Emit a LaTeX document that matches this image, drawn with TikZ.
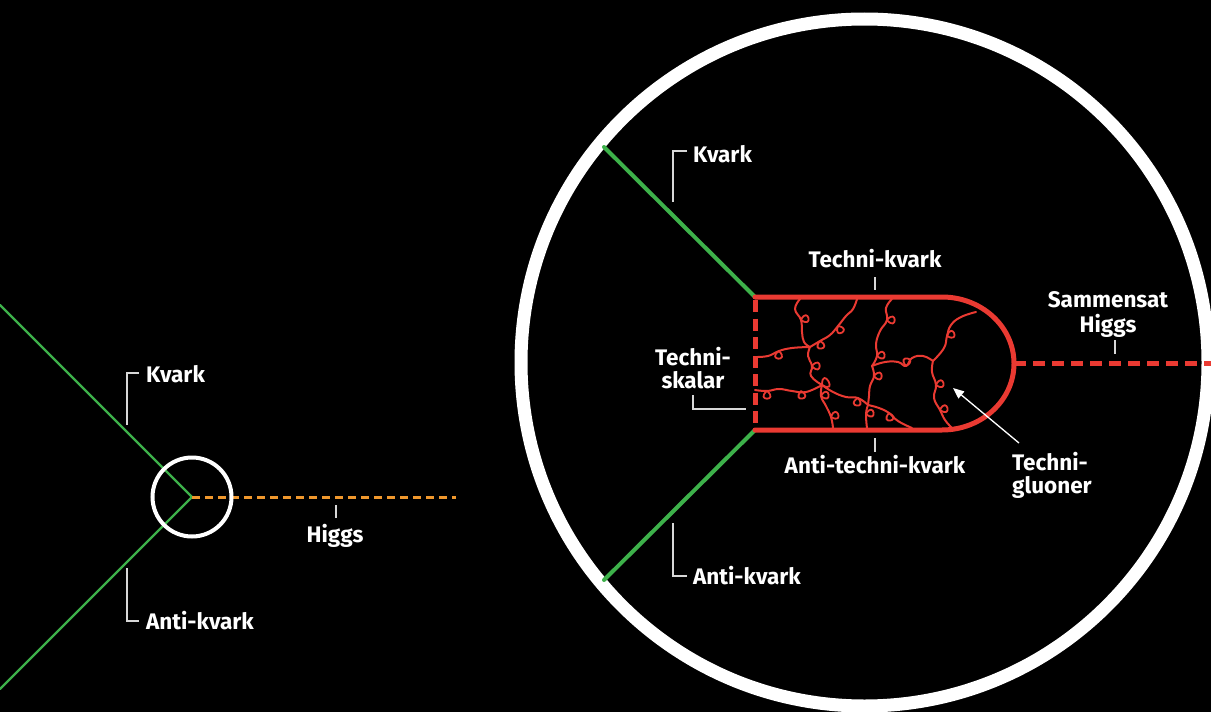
\documentclass[tikz,border=0pt]{standalone}
\usepackage{fontspec}
\setmainfont{Fira Sans}
\usetikzlibrary{arrows.meta}
\definecolor{qgreen}{RGB}{61,177,74}
\definecolor{tred}{RGB}{234,58,50}
\definecolor{horange}{RGB}{240,152,45}
\definecolor{tickgrey}{RGB}{215,215,215}
\begin{document}
\begin{tikzpicture}[x=1pt,y=-1pt,
  lbl/.style={font=\bfseries\fontsize{22.5}{25}\selectfont, text=white, inner sep=0pt},
  tick/.style={draw=tickgrey, line width=1.3pt},
  quark/.style={draw=qgreen, line cap=round},
  gluon/.style={draw=tred, line width=2pt, line cap=round, line join=round},
  redwall/.style={draw=tred, line width=5pt}]

% background and frame
\fill[black] (0,0) rectangle (1211,712);
\useasboundingbox (0,0) rectangle (1211,712);
\clip (0,0) rectangle (1211,712);

% ---------- small picture: quark + anti-quark -> Higgs ----------
\coordinate (qA) at (0,305);
\coordinate (qB) at (0,689);
\coordinate (vtx) at (192,497);
\coordinate (hEnd) at (456,497);
\draw[quark, line width=2.2pt] (qA) -- (vtx) -- (qB);
\draw[draw=horange, line width=3pt, dash pattern=on 8pt off 5pt] (vtx) -- (hEnd);
\node[draw=white, line width=4pt, circle, minimum size=79pt, inner sep=0pt] (zoomring) at (vtx) {};

\node[lbl, anchor=base west] (kvL) at (146,382) {Kvark};
\node[lbl, anchor=base] (higgsL) at (335,542) {Higgs};
\node[lbl, anchor=base west] (akvL) at (146,629) {Anti-kvark};
\coordinate (kvL1) at (139,373); \coordinate (kvL2) at (127,373); \coordinate (kvL3) at (127,425);
\coordinate (akL1) at (127,568); \coordinate (akL2) at (127,621); \coordinate (akL3) at (139,621);
\coordinate (hL1) at (336,505); \coordinate (hL2) at (336,518);
\draw[tick] (kvL1) -- (kvL2) -- (kvL3);
\draw[tick] (akL1) -- (akL2) -- (akL3);
\draw[tick] (hL1) -- (hL2);

% ---------- magnified view ----------
\node[draw=white, line width=13pt, circle, minimum size=687pt, inner sep=0pt] (lens) at (864.5,362.5) {};

% incoming quarks
\coordinate (qTop) at (604,147);
\coordinate (qBot) at (604,580);
\coordinate (boxTL) at (755,297);
\coordinate (boxBL) at (755,430);
\draw[quark, line width=4pt] (qTop) -- (boxTL);
\draw[quark, line width=4pt] (qBot) -- (boxBL);

% techni-quark loop: straight lines and rounded end
\draw[redwall, line cap=round, line join=round]
  (boxTL) -- (942,297) arc[start angle=-90, end angle=90, x radius=72, y radius=66.5] -- (boxBL);
% techni-scalar (dashed wall)
\draw[redwall, dash pattern=on 12pt off 6.5pt, dash phase=-3pt] (boxTL) -- (boxBL);
% composite Higgs leaving the loop
\coordinate (hOut) at (1014,363.5);
\coordinate (hRight) at (1215,363.5);
\draw[draw=tred, line width=4.5pt, dash pattern=on 12pt off 7pt] (hOut) -- (hRight);

% techni-gluon network
\begin{scope}[gluon]
  \draw plot[smooth, tension=0.75] coordinates {(800,299) (795,309) (801,320) (802,332) (804,342) (810,347)};
  \draw plot[smooth, tension=0.75] coordinates {(857,299) (853,309) (846,316) (838,326) (830,335) (820,341) (810,347)};
  \draw plot[smooth, tension=0.75] coordinates {(755,357) (768,356) (779,351) (792,348) (810,347)};
  \draw plot[smooth, tension=0.75] coordinates {(810,347) (808,356) (812,366) (811,376) (822,385)};
  \draw plot[smooth, tension=0.75] coordinates {(755,390) (767,391) (779,389) (792,391) (806,392) (822,385)};
  \draw plot[smooth, tension=0.75] coordinates {(822,385) (821,396) (826,406) (831,417) (833,428)};
  \draw plot[smooth, tension=0.75] coordinates {(822,385) (833,392) (846,397) (858,398) (868,405)};
  \draw plot[smooth, tension=0.75] coordinates {(868,405) (866,414) (867,428)};
  \draw plot[smooth, tension=0.75] coordinates {(892,299) (886,308) (887,320) (880,331) (876,344) (877,356) (872,366)};
  \draw plot[smooth, tension=0.75] coordinates {(872,366) (885,362) (898,362) (906,366) (912,358) (923,356) (933,361)};
  \draw plot[smooth, tension=0.75] coordinates {(872,366) (874,376) (870,386) (869,396) (868,405)};
  \draw plot[smooth, tension=0.75] coordinates {(868,405) (879,408) (889,413) (898,421) (912,428)};
  \draw plot[smooth, tension=0.75] coordinates {(976,312) (961,317) (951,325) (947,336) (944,348) (933,361)};
  \draw plot[smooth, tension=0.75] coordinates {(933,361) (932,372) (936,385) (934,398) (940,410) (945,420) (952,428)};
\end{scope}
% curls along the gluon lines: point on the line / direction of the curl
\foreach \px/\py/\ang in {801/320/15, 838/326/-60, 820/341/-80, 779/351/-95, 812/366/0,
                          767/391/-90, 801/391/-80, 821/396/10, 831/417/20, 858/398/-100,
                          866/414/10, 887/320/0, 877/356/10, 874/376/0, 906/366/80,
                          947/336/20, 936/385/15, 940/410/15, 889/413/-80}
  \draw[gluon, line width=1.8pt] (\px,\py) to[out=\ang-50, in=\ang+50, min distance=16pt] (\px,\py);
\draw[gluon, line width=1.8pt] (822,385) to[out=-30, in=90, min distance=20pt] (822,385);

% labels of the magnified view
\node[lbl, anchor=base west] (kvR) at (693,162) {Kvark};
\node[lbl, anchor=base west] (akvR) at (693,584) {Anti-kvark};
\node[lbl, anchor=base] (tkv) at (875,267) {Techni-kvark};
\node[lbl, anchor=base] (atkv) at (875,473) {Anti-techni-kvark};
\node[lbl, anchor=base] (tsk1) at (693,365) {Techni-};
\node[lbl, anchor=base] (tsk2) at (693,388) {skalar};
\node[lbl, anchor=base] (sh1) at (1108,307) {Sammensat};
\node[lbl, anchor=base] (sh2) at (1108,332) {Higgs};
\node[lbl, anchor=base west] (tg1) at (1012,470) {Techni-};
\node[lbl, anchor=base west] (tg2) at (1012,493) {gluoner};

\coordinate (kvR1) at (687,151); \coordinate (kvR2) at (673,151); \coordinate (kvR3) at (673,202);
\coordinate (akR1) at (673,523); \coordinate (akR2) at (673,576); \coordinate (akR3) at (687,576);
\coordinate (tk1) at (875,277); \coordinate (tk2) at (875,290);
\coordinate (atk1) at (875,438); \coordinate (atk2) at (875,452);
\coordinate (ts1) at (693,395); \coordinate (ts2) at (693,409); \coordinate (ts3) at (746,409);
\coordinate (sh3) at (1115,340); \coordinate (sh4) at (1115,354);
\coordinate (tgTail) at (1019,443); \coordinate (tgTip) at (953,388);
\draw[tick] (kvR1) -- (kvR2) -- (kvR3);
\draw[tick] (akR1) -- (akR2) -- (akR3);
\draw[tick] (tk1) -- (tk2);
\draw[tick] (atk1) -- (atk2);
\draw[tick] (ts1) -- (ts2) -- (ts3);
\draw[tick] (sh3) -- (sh4);
\draw[tick, draw=white, -{Triangle[length=11pt, width=9pt]}] (tgTail) -- (tgTip);
\end{tikzpicture}
\end{document}
